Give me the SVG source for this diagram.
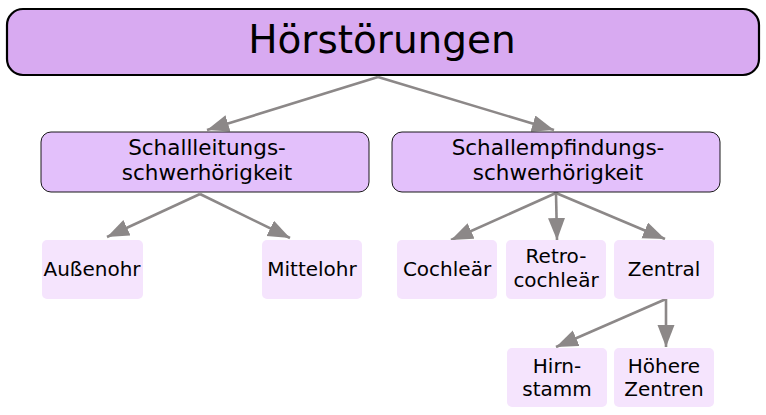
<svg xmlns="http://www.w3.org/2000/svg" width="766" height="415" viewBox="0 0 766 415">
<defs>
<style>
text{font-family:"DejaVu Sans","Liberation Sans",sans-serif;fill:#000;text-anchor:middle}
.t{font-size:39px}
.m{font-size:21.5px}
.s{font-size:20px}
.top{fill:#d8aaf1;stroke:#000;stroke-width:2.2}
.mid{fill:#e3c0fb;stroke:#000;stroke-width:0.9}
.leaf{fill:#f5e4fd}
.c{stroke:#8c8888;stroke-width:2.6;fill:none;marker-end:url(#ah)}
</style>
<marker id="ah" markerUnits="userSpaceOnUse" markerWidth="24" markerHeight="18" refX="22" refY="8.5" orient="auto">
<path d="M0,0 L22,8.5 L0,17 Z" fill="#8c8888"/>
</marker>
</defs>
<g id="connectors">
<path class="c" d="M378,77 L207,130"/>
<path class="c" d="M378,77 L554,130"/>
<path class="c" d="M200,194 L107,237"/>
<path class="c" d="M200,194 L290,238"/>
<path class="c" d="M556,193 L451,240"/>
<path class="c" d="M556,193 L557,240"/>
<path class="c" d="M556,193 L665,239"/>
<path class="c" d="M666,299 L556,347"/>
<path class="c" d="M666,299 L666,347"/>
</g>
<g id="n-top">
<rect class="top" x="7" y="9" width="752" height="66" rx="16"/>
<text class="t" x="382" y="53">Hörstörungen</text>
</g>
<g id="n-schallleitung">
<rect class="mid" x="41" y="132" width="328" height="60" rx="10"/>
<text class="m" x="207" y="155">Schallleitungs-</text>
<text class="m" x="207" y="180">schwerhörigkeit</text>
</g>
<g id="n-schallempfindung">
<rect class="mid" x="392" y="132" width="328" height="60" rx="10"/>
<text class="m" x="558" y="155">Schallempfindungs-</text>
<text class="m" x="558" y="180">schwerhörigkeit</text>
</g>
<g id="n-aussenohr">
<rect class="leaf" x="42" y="240" width="101" height="59" rx="5"/>
<text class="s" x="92" y="276">Außenohr</text>
</g>
<g id="n-mittelohr">
<rect class="leaf" x="262" y="240" width="100" height="59" rx="5"/>
<text class="s" x="312" y="276">Mittelohr</text>
</g>
<g id="n-cochlear">
<rect class="leaf" x="397" y="240" width="100" height="59" rx="5"/>
<text class="s" x="447" y="276">Cochleär</text>
</g>
<g id="n-retrocochlear">
<rect class="leaf" x="506" y="240" width="100" height="59" rx="5"/>
<text class="s" x="556" y="263">Retro-</text>
<text class="s" x="556" y="287">cochleär</text>
</g>
<g id="n-zentral">
<rect class="leaf" x="614" y="240" width="100" height="59" rx="5"/>
<text class="s" x="664" y="276">Zentral</text>
</g>
<g id="n-hirnstamm">
<rect class="leaf" x="507" y="348" width="100" height="59" rx="5"/>
<text class="s" x="557" y="373">Hirn-</text>
<text class="s" x="557" y="396">stamm</text>
</g>
<g id="n-hoehere">
<rect class="leaf" x="614" y="348" width="100" height="59" rx="5"/>
<text class="s" x="664" y="373">Höhere</text>
<text class="s" x="664" y="396">Zentren</text>
</g>
</svg>
